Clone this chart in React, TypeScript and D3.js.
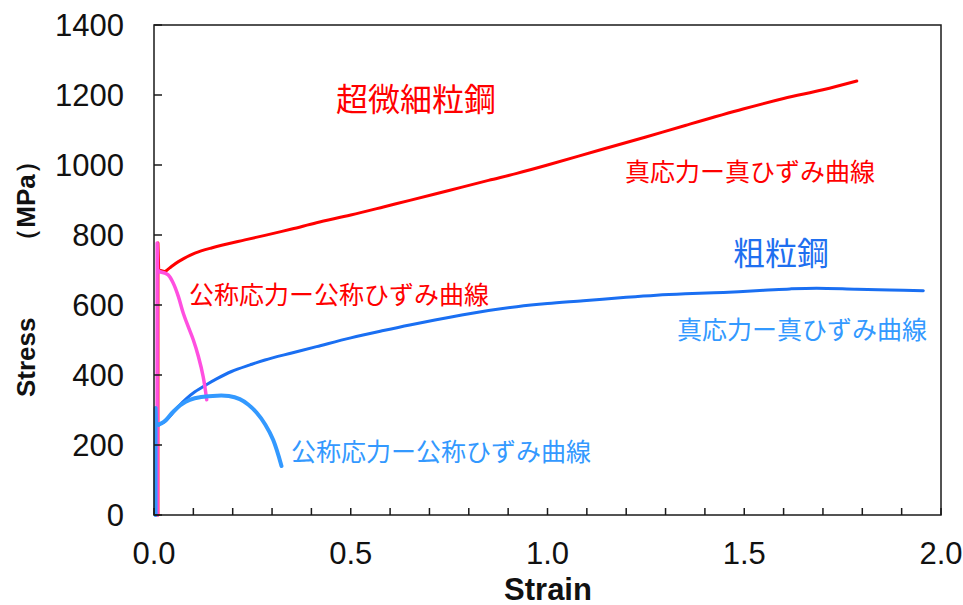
import React from "react";
import * as d3 from "d3";

// Data (strain, stress MPa)
// the first `*Elastic` points are the near-vertical elastic part (drawn straight)
const fineTrueStrain = [0.01, 0.01, 0.012, 0.028, 0.04, 0.062, 0.104, 0.146, 0.231, 0.282, 0.35, 0.413, 0.5, 0.583, 0.65, 0.752, 0.85, 0.922, 1.0, 1.133, 1.25, 1.35, 1.497, 1.6, 1.7, 1.786];
const fineTrueStress = [0, 777, 700, 695, 706, 724, 748, 763, 786, 799, 817, 835, 857, 880, 899, 928, 956, 976, 1000, 1043, 1080, 1113, 1160, 1190, 1215, 1240];
const fineTrueElastic = 4;

const fineNomStrain = [0.008, 0.008, 0.009, 0.015, 0.036, 0.049, 0.062, 0.074, 0.087, 0.1, 0.113, 0.125, 0.134];
const fineNomStress = [0, 777, 700, 695, 686, 662, 624, 578, 538, 500, 452, 395, 329];
const fineNomElastic = 4;

const coarseTrueStrain = [0.004, 0.004, 0.01, 0.028, 0.045, 0.062, 0.083, 0.104, 0.134, 0.159, 0.197, 0.244, 0.282, 0.35, 0.413, 0.5, 0.583, 0.65, 0.752, 0.85, 0.922, 1.0, 1.091, 1.2, 1.277, 1.35, 1.447, 1.55, 1.616, 1.684, 1.786, 1.87, 1.955];
const coarseTrueStress = [0, 257, 259, 267, 288, 310, 333, 352, 373, 389, 410, 429, 443, 463, 481, 506, 527, 543, 565, 584, 595, 604, 612, 622, 628, 632, 636, 642, 646, 648, 645, 643, 641];
const coarseTrueElastic = 3;

const coarseNomStrain = [0.004, 0.004, 0.005, 0.012, 0.025, 0.049, 0.07, 0.091, 0.12, 0.16, 0.19, 0.218, 0.24, 0.261, 0.283, 0.303, 0.324];
const coarseNomStress = [0, 306, 262, 258, 266, 295, 316, 329, 337, 341, 340, 331, 315, 292, 258, 214, 140];
const coarseNomElastic = 4;

const xTickLabels = [0, 0.5, 1.0, 1.5, 2.0];
const xMinorTicks = d3.range(0, 21).map((i) => i / 10);
const yTickLabels = [0, 200, 400, 600, 800, 1000, 1200, 1400];

const annotations = [
  { text: "超微細粒鋼", x: 416, y: 97, size: 32, color: "#ff0000" },
  { text: "真応力ー真ひずみ曲線", x: 750, y: 170, size: 25, color: "#ff0000" },
  { text: "粗粒鋼", x: 781, y: 251, size: 32, color: "#1f6ff0" },
  { text: "公称応力ー公称ひずみ曲線", x: 339, y: 293, size: 25, color: "#ff0000" },
  { text: "真応力ー真ひずみ曲線", x: 802, y: 328, size: 25, color: "#3399ff" },
  { text: "公称応力ー公称ひずみ曲線", x: 441, y: 450, size: 25, color: "#3399ff" },
];

const W = 963;
const H = 605;
const left = 154;
const right = 941;
const top = 25;
const bottom = 515;

export default function App() {
  const x = d3.scaleLinear().domain([0, 2]).range([left, right]);
  const y = d3.scaleLinear().domain([0, 1400]).range([bottom, top]);
  const straight = d3
    .line<[number, number]>()
    .x((d) => x(d[0]))
    .y((d) => y(d[1]));
  const smooth = d3
    .line<[number, number]>()
    .x((d) => x(d[0]))
    .y((d) => y(d[1]))
    .curve(d3.curveCatmullRom.alpha(0.5));

  const zip = (a: number[], b: number[]) => a.map((v, i) => [v, b[i]] as [number, number]);

  const series = [
    { pts: zip(fineTrueStrain, fineTrueStress), k: fineTrueElastic, color: "#ff0000", w: 3 },
    { pts: zip(coarseTrueStrain, coarseTrueStress), k: coarseTrueElastic, color: "#1a6ff2", w: 3 },
    { pts: zip(fineNomStrain, fineNomStress), k: fineNomElastic, color: "#ff4fe0", w: 3.5 },
    { pts: zip(coarseNomStrain, coarseNomStress), k: coarseNomElastic, color: "#3399ff", w: 4 },
  ];

  const font = "'Liberation Sans', Arial, sans-serif";
  const cjk = "'Noto Sans CJK JP', sans-serif";

  return (
    <div style={{ position: "fixed", left: 0, top: 0 }}>
      <svg width={W} height={H} style={{ display: "block", background: "#fff" }}>
        <rect x={0} y={0} width={W} height={H} fill="#fff" />
        {/* curves */}
        {series.map((s, i) => (
          <g key={i} fill="none" stroke={s.color} strokeWidth={s.w} strokeLinejoin="round" strokeLinecap="round">
            <path d={straight(s.pts.slice(0, s.k)) || ""} />
            <path d={smooth(s.pts.slice(s.k - 1)) || ""} />
          </g>
        ))}
        {/* frame */}
        <rect x={left} y={top} width={right - left} height={bottom - top} fill="none" stroke="#1a1a1a" strokeWidth={1.5} />
        {/* x ticks */}
        {xMinorTicks.map((t) => (
          <line key={"xt" + t} x1={x(t)} x2={x(t)} y1={bottom} y2={bottom - 7} stroke="#1a1a1a" strokeWidth={1.5} />
        ))}
        {xTickLabels.map((t) => (
          <text key={"xl" + t} x={x(t)} y={553} textAnchor="middle" dominantBaseline="central" fontFamily={font} fontSize={31} fill="#111">
            {t.toFixed(1)}
          </text>
        ))}
        {/* y ticks */}
        {yTickLabels.map((t) => (
          <g key={"y" + t}>
            <line x1={left} x2={left + 8} y1={y(t)} y2={y(t)} stroke="#1a1a1a" strokeWidth={1.5} />
            <text x={124} y={y(t)} textAnchor="end" dominantBaseline="central" fontFamily={font} fontSize={31} fill="#111">
              {t}
            </text>
          </g>
        ))}
        {/* axis titles */}
        <text x={548} y={589} textAnchor="middle" dominantBaseline="central" fontFamily={font} fontSize={31} fontWeight="bold" fill="#111">
          Strain
        </text>
        <g transform="translate(26,0) rotate(-90)" fontFamily={font} fontSize={26} fontWeight="bold" fill="#111">
          <text x={-397} y={0} textAnchor="start" dominantBaseline="central">
            Stress
          </text>
          <text x={-201} y={0} textAnchor="middle" dominantBaseline="central">
            （MPa）
          </text>
        </g>
        {/* annotations */}
        {annotations.map((a, i) => (
          <text key={"a" + i} x={a.x} y={a.y} textAnchor="middle" dominantBaseline="central" fontFamily={cjk} fontSize={a.size} fill={a.color}>
            {a.text}
          </text>
        ))}
      </svg>
    </div>
  );
}
